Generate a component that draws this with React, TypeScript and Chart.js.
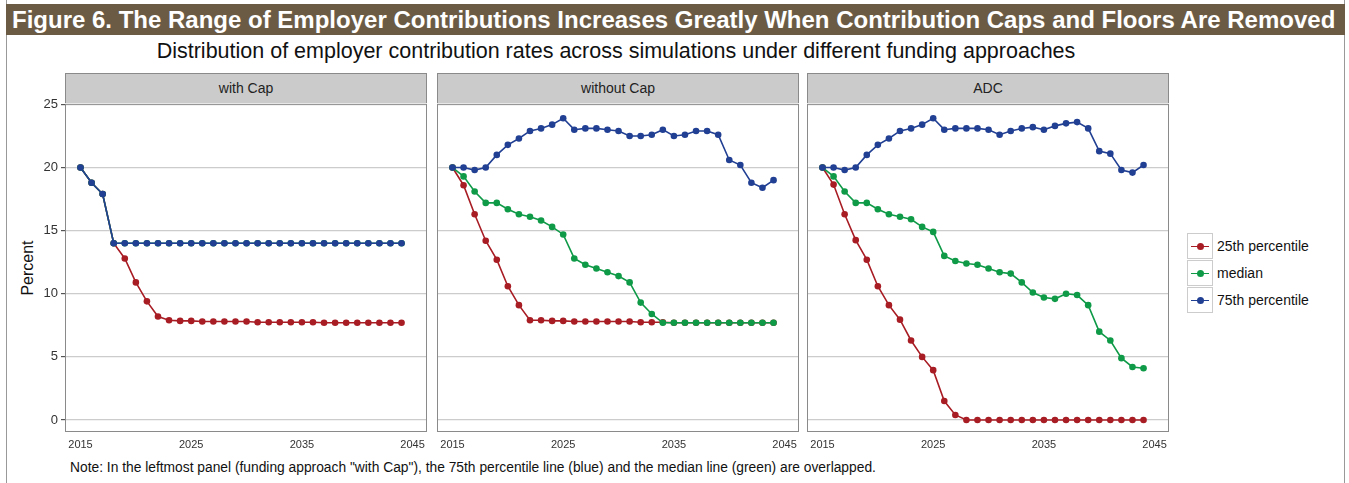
import React, { useEffect, useRef } from 'react';
import { Chart, registerables } from 'chart.js';

Chart.register(...registerables);

const years = Array.from({ length: 30 }, (_, i) => 2015 + i);
const xTicks = [2015, 2025, 2035, 2045];
const yTicks = [0, 5, 10, 15, 20, 25];

const capP25 = [20, 18.8, 17.9, 14.0, 12.8, 10.9, 9.4, 8.2, 7.9, 7.85, 7.85, 7.8, 7.8, 7.8, 7.8, 7.8, 7.75, 7.75, 7.75, 7.75, 7.75, 7.75, 7.7, 7.7, 7.7, 7.7, 7.7, 7.7, 7.7, 7.7];
const capMed = [20, 18.8, 17.9, 14, 14, 14, 14, 14, 14, 14, 14, 14, 14, 14, 14, 14, 14, 14, 14, 14, 14, 14, 14, 14, 14, 14, 14, 14, 14, 14];
const capP75 = [20, 18.8, 17.9, 14, 14, 14, 14, 14, 14, 14, 14, 14, 14, 14, 14, 14, 14, 14, 14, 14, 14, 14, 14, 14, 14, 14, 14, 14, 14, 14];

const noCapP25 = [20, 18.6, 16.3, 14.2, 12.7, 10.6, 9.1, 7.9, 7.9, 7.85, 7.85, 7.8, 7.8, 7.8, 7.8, 7.8, 7.8, 7.75, 7.75, 7.75, 7.7, 7.7, 7.7, 7.7, 7.7, 7.7, 7.7, 7.7, 7.7, 7.7];
const noCapMed = [20, 19.3, 18.1, 17.2, 17.2, 16.7, 16.3, 16.1, 15.8, 15.3, 14.7, 12.8, 12.3, 12.0, 11.7, 11.4, 10.9, 9.3, 8.4, 7.7, 7.7, 7.7, 7.7, 7.7, 7.7, 7.7, 7.7, 7.7, 7.7, 7.7];
const noCapP75 = [20, 20, 19.8, 20, 21, 21.8, 22.3, 22.9, 23.1, 23.4, 23.9, 23, 23.1, 23.1, 23, 22.9, 22.5, 22.5, 22.6, 23, 22.5, 22.6, 22.9, 22.9, 22.6, 20.6, 20.2, 18.8, 18.4, 19.0];

const adcP25 = [20, 18.65, 16.3, 14.25, 12.7, 10.6, 9.1, 7.95, 6.3, 5.0, 3.95, 1.5, 0.4, 0, 0, 0, 0, 0, 0, 0, 0, 0, 0, 0, 0, 0, 0, 0, 0, 0];
const adcMed = [20, 19.3, 18.1, 17.2, 17.2, 16.7, 16.3, 16.1, 15.9, 15.3, 14.9, 13.0, 12.6, 12.4, 12.3, 12.0, 11.7, 11.6, 10.9, 10.1, 9.7, 9.6, 10.0, 9.9, 9.1, 7.0, 6.3, 4.9, 4.2, 4.1];
const adcP75 = [20, 20, 19.8, 20, 21, 21.8, 22.3, 22.9, 23.1, 23.4, 23.9, 23, 23.1, 23.1, 23.1, 23, 22.6, 22.9, 23.1, 23.2, 23, 23.3, 23.5, 23.6, 23.1, 21.3, 21.1, 19.8, 19.6, 20.2];

const RED = '#a81c24';
const GREEN = '#0f9a48';
const BLUE = '#213f93';
const FONT = '"Liberation Sans", Arial, sans-serif';

const panels = [
  { title: 'with Cap', left: 65, series: [capP25, capMed, capP75], showY: true },
  { title: 'without Cap', left: 437, series: [noCapP25, noCapMed, noCapP75], showY: false },
  { title: 'ADC', left: 807, series: [adcP25, adcMed, adcP75], showY: false },
];

const PLOT_W = 362;
const PLOT_TOP = 103;
const PLOT_H = 329;
const Y_AXIS_W = 50;
const X_AXIS_H = 22;
const TOP_PAD = 10;

const frame = {
  id: 'frame',
  afterDraw(chart: Chart) {
    const { ctx, chartArea: a } = chart;
    ctx.save();
    ctx.strokeStyle = '#8a8a8a';
    ctx.lineWidth = 1;
    ctx.strokeRect(a.left + 0.5, a.top + 0.5, a.right - a.left - 1, a.bottom - a.top - 1);
    ctx.restore();
  },
};

const Panel: React.FC<{ idx: number }> = ({ idx }) => {
  const ref = useRef<HTMLCanvasElement>(null);
  const p = panels[idx];
  useEffect(() => {
    if (!ref.current) return;
    const colors = [RED, GREEN, BLUE];
    const names = ['25th percentile', 'median', '75th percentile'];
    const chart = new Chart(ref.current, {
      type: 'line',
      data: {
        datasets: p.series.map((s, i) => ({
          label: names[i],
          data: s.map((v, j) => ({ x: years[j], y: v })),
          borderColor: colors[i],
          backgroundColor: colors[i],
          borderWidth: 1.6,
          pointRadius: 3.3,
          pointBorderWidth: 0,
          tension: 0,
          order: 3 - i,
        })),
      },
      options: {
        animation: false,
        responsive: false,
        layout: { autoPadding: false, padding: 0 },
        plugins: { legend: { display: false }, tooltip: { enabled: false } },
        scales: {
          x: {
            type: 'linear',
            min: 2013.6,
            max: 2046.3,
            afterBuildTicks: (ax: any) => { ax.ticks = xTicks.map((v) => ({ value: v })); },
            afterFit: (ax: any) => { ax.height = X_AXIS_H; },
            grid: { display: false, drawTicks: true, tickLength: 4, color: '#555' },
            border: { display: false },
            ticks: { color: '#333', font: { family: FONT, size: 11 }, padding: 2, maxRotation: 0, callback: (v: any) => String(v) },
          },
          y: {
            min: -0.95,
            max: 25.05,
            afterBuildTicks: (ax: any) => { ax.ticks = yTicks.map((v) => ({ value: v })); },
            afterFit: (ax: any) => { ax.width = Y_AXIS_W; },
            grid: { color: '#cccccc', lineWidth: 1.2, drawTicks: p.showY, tickLength: 4, tickColor: '#555' },
            border: { display: false },
            ticks: { color: p.showY ? '#333' : 'rgba(0,0,0,0)', font: { family: FONT, size: 13 }, padding: 3 },
          },
        },
      },
      plugins: [frame],
    });
    return () => chart.destroy();
  }, []);
  const w = PLOT_W + Y_AXIS_W;
  const h = PLOT_H + X_AXIS_H + TOP_PAD;
  return (
    <>
      <div style={{ position: 'absolute', left: p.left, top: 73, width: PLOT_W - 2, height: 29, background: '#cbcbcb', border: '1px solid #8a8a8a', borderBottom: 'none', textAlign: 'center', lineHeight: '29px', fontSize: 14, color: '#222' }}>{p.title}</div>
      <canvas ref={ref} width={w} height={h} style={{ position: 'absolute', left: p.left - Y_AXIS_W, top: PLOT_TOP - TOP_PAD, width: w, height: h }} />
    </>
  );
};

const legendItems = [
  { label: '25th percentile', color: RED },
  { label: 'median', color: GREEN },
  { label: '75th percentile', color: BLUE },
];

export default function App() {
  return (
    <div style={{ position: 'fixed', left: 0, top: 0, width: 1349, height: 483, background: '#fff', fontFamily: FONT, overflow: 'hidden' }}>
      <div style={{ position: 'absolute', left: 6, top: 0, width: 1339, height: 483, borderLeft: '1px solid #999', borderRight: '1px solid #999', boxSizing: 'border-box' }} />
      <div style={{ position: 'absolute', left: 6, top: 4, width: 1339, height: 31, background: '#6b5b45', color: '#fff', fontWeight: 'bold', fontSize: 24, lineHeight: '31px', paddingLeft: 6, boxSizing: 'border-box', whiteSpace: 'nowrap' }}>
        Figure 6. The Range of Employer Contributions Increases Greatly When Contribution Caps and Floors Are Removed
      </div>
      <div style={{ position: 'absolute', left: 0, top: 39, width: 1232, textAlign: 'center', fontSize: 21.5, color: '#111', whiteSpace: 'nowrap' }}>
        Distribution of employer contribution rates across simulations under different funding approaches
      </div>
      <div style={{ position: 'absolute', left: 28, top: 268, transform: 'translate(-50%,-50%) rotate(-90deg)', fontSize: 16, color: '#111' }}>Percent</div>
      {panels.map((_, i) => <Panel key={i} idx={i} />)}
      <div style={{ position: 'absolute', left: 1187, top: 232, width: 150, fontSize: 14, color: '#111' }}>
        {legendItems.map((it) => (
          <div key={it.label} style={{ display: 'flex', alignItems: 'center', height: 27 }}>
            <div style={{ position: 'relative', width: 26, height: 26, border: '1px solid #ccc', boxSizing: 'border-box', marginRight: 4 }}>
              <div style={{ position: 'absolute', left: 3, right: 3, top: 12, height: 1.6, background: it.color }} />
              <div style={{ position: 'absolute', left: 9, top: 9, width: 7, height: 7, borderRadius: 4, background: it.color }} />
            </div>
            {it.label}
          </div>
        ))}
      </div>
      <div style={{ position: 'absolute', left: 70, top: 460, fontSize: 13.8, color: '#111', whiteSpace: 'nowrap' }}>
        Note: In the leftmost panel (funding approach "with Cap"), the 75th percentile line (blue) and the median line (green) are overlapped.
      </div>
    </div>
  );
}
